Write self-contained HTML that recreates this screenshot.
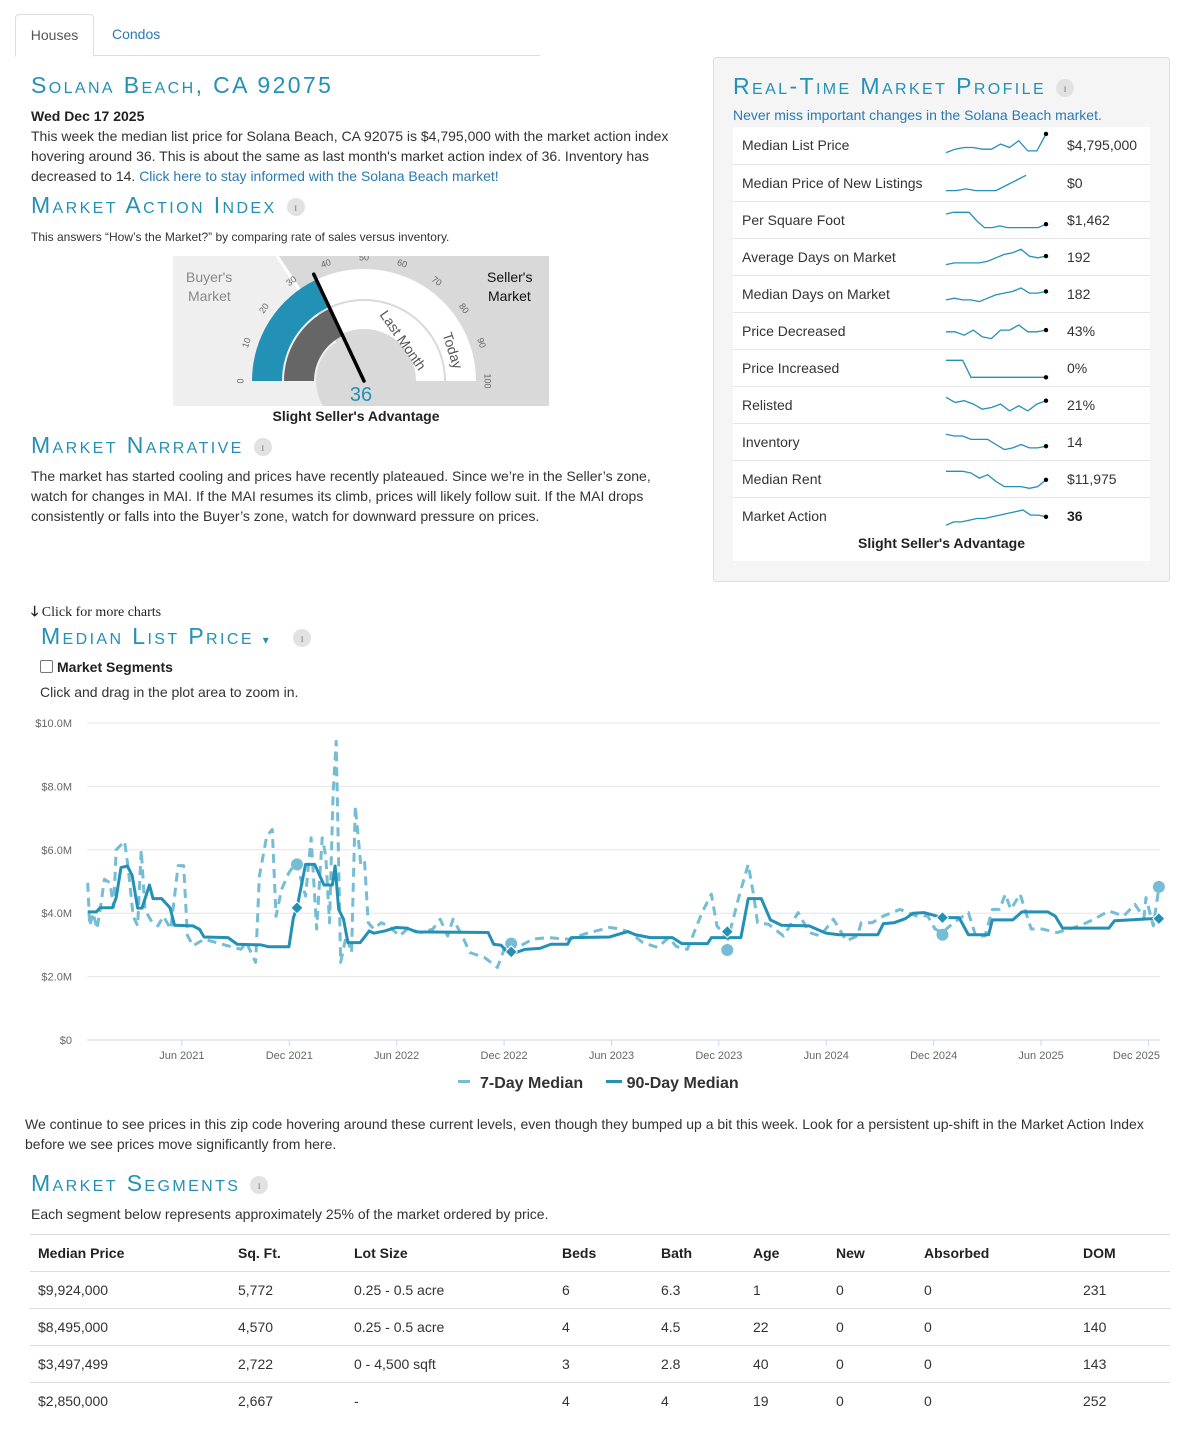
<!DOCTYPE html>
<html><head><meta charset="utf-8">
<style>
body{margin:0;width:1200px;height:1449px;position:relative;background:#fff;font-family:"Liberation Sans",Arial,sans-serif;color:#333;overflow:hidden}
.a{position:absolute;white-space:nowrap}
.h{position:absolute;white-space:nowrap;font-variant:small-caps;text-transform:none;color:#2390b6;font-size:23px;letter-spacing:2.4px;line-height:24px;font-weight:normal}
.info{display:inline-block;width:18px;height:18px;border-radius:50%;background:#e2e2e2;color:#999;font-size:12px;text-align:center;line-height:18px;font-family:"Liberation Serif",serif;font-weight:bold;vertical-align:middle;letter-spacing:0;margin-left:10px}
.p{font-size:14px;line-height:20px}
a{color:#2a7ab0;text-decoration:none}
.row{position:absolute;left:733px;width:417px;height:36px;border-top:1px solid #e5e5e5;font-size:14px}
.row span{position:absolute;top:10px}
</style></head><body>
<div class="a" style="left:15px;top:55px;width:525px;height:1px;background:#ddd"></div>
<div class="a" style="left:15px;top:14px;width:77px;height:41px;border:1px solid #ddd;border-bottom:1px solid #fff;border-radius:4px 4px 0 0;background:#fff;font-size:14px;text-align:center;line-height:41px;color:#555">Houses</div>
<div class="a" style="left:112px;top:26px;font-size:14px;color:#2a7ab0">Condos</div>

<div class="h" style="left:31px;top:73px">Solana Beach, CA 92075</div>
<div class="a p" style="left:31px;top:106px;font-weight:bold;color:#222">Wed Dec 17 2025</div>
<div class="a p" style="left:31px;top:126px;white-space:normal;width:660px;color:#333">This week the median list price for Solana Beach, CA 92075 is $4,795,000 with the market action index hovering around 36. This is about the same as last month's market action index of 36. Inventory has decreased to 14. <a>Click here to stay informed with the Solana Beach market!</a></div>

<div class="h" style="left:31px;top:193px">Market Action Index<span class="info">i</span></div>
<div class="a" style="left:31px;top:230px;font-size:12px">This answers “How’s the Market?” by comparing rate of sales versus inventory.</div>

<svg class="a" style="left:173px;top:256px" width="376" height="150" viewBox="173 256 376 150">
<rect x="173" y="256" width="376" height="150" fill="#efefef"/>
<polygon points="277,256 549,256 549,406 377,406" fill="#d9d9d9"/>
<line x1="277" y1="256" x2="377" y2="406" stroke="#fff" stroke-width="3"/>
<g id="gaugeArcs"></g>
<text x="186" y="282" font-size="14" fill="#888">Buyer's</text>
<text x="188" y="301" font-size="14" fill="#888">Market</text>
<text x="487" y="282" font-size="14" fill="#111">Seller's</text>
<text x="488" y="301" font-size="14" fill="#111">Market</text>
<text x="361" y="401" font-size="20" fill="#2390b6" text-anchor="middle">36</text>
</svg>
<div class="a" style="left:173px;width:366px;text-align:center;top:408px;font-size:14px;font-weight:bold;color:#222">Slight Seller's Advantage</div>

<div class="h" style="left:31px;top:433px">Market Narrative<span class="info">i</span></div>
<div class="a p" style="left:31px;top:466px;white-space:normal;width:640px">The market has started cooling and prices have recently plateaued. Since we’re in the Seller’s zone, watch for changes in MAI. If the MAI resumes its climb, prices will likely follow suit. If the MAI drops consistently or falls into the Buyer’s zone, watch for downward pressure on prices.</div>

<div class="a" style="left:713px;top:57px;width:455px;height:523px;background:#f5f5f5;border:1px solid #ddd;border-radius:3px"></div>
<div class="h" style="left:733px;top:74px">Real-Time Market Profile<span class="info">i</span></div>
<div class="a" style="left:733px;top:107px;font-size:14px;color:#2a7ab0">Never miss important changes in the Solana Beach market.</div>
<div class="a" style="left:733px;top:127px;width:417px;height:434px;background:#fff"></div>
<div id="rows"></div>
<div class="a" style="left:733px;width:417px;text-align:center;top:535px;font-size:14px;font-weight:bold;color:#222">Slight Seller's Advantage</div>

<div class="a" style="left:31px;top:601px;font-family:'Liberation Serif',serif;font-size:14px;color:#222"><b>🡓</b> Click for more charts</div>
<div class="h" style="left:41px;top:624px">Median List Price <span style="font-size:12px">▾</span><span class="info" style="margin-left:22px">i</span></div>
<div class="a" style="left:40px;top:659px;font-size:14px;font-weight:bold;color:#222"><span style="display:inline-block;width:11px;height:11px;border:1px solid #777;border-radius:2px;vertical-align:-1px;margin-right:4px;background:#fff"></span>Market Segments</div>
<div class="a p" style="left:40px;top:682px">Click and drag in the plot area to zoom in.</div>

<svg class="a" id="chart" style="left:0;top:700px" width="1200" height="400" viewBox="0 700 1200 400"></svg>

<div class="a" style="left:458px;top:1075px;font-size:16px;font-weight:bold;color:#333">
<span><span style="display:inline-block;width:12px;height:3px;background:#74bdd5;vertical-align:5px;margin-right:10px"></span>7-Day Median</span>
<span style="margin-left:18px"><span style="display:inline-block;width:16px;height:3px;background:#2390b6;vertical-align:5px;margin-right:5px"></span>90-Day Median</span></div>

<div class="a p" style="left:25px;top:1114px;white-space:normal;width:1150px">We continue to see prices in this zip code hovering around these current levels, even though they bumped up a bit this week. Look for a persistent up-shift in the Market Action Index before we see prices move significantly from here.</div>

<div class="h" style="left:31px;top:1171px">Market Segments<span class="info">i</span></div>
<div class="a p" style="left:31px;top:1204px">Each segment below represents approximately 25% of the market ordered by price.</div>
<div id="seg"></div>

<script>
var NS='http://www.w3.org/2000/svg';
function el(t,a,p){var e=document.createElementNS(NS,t);for(var k in a)e.setAttribute(k,a[k]);p.appendChild(e);return e;}

var gaugeValue=36;
var gaugeLastMonth=36;
var gaugeTicks=[0,10,20,30,40,50,60,70,80,90,100];
(function(){
 var g=document.getElementById('gaugeArcs');var cx=364,cy=381;
 function pt(v,r){var a=Math.PI*(1-v/100);return [cx+r*Math.cos(a),cy-r*Math.sin(a)];}
 function band(v0,v1,r0,r1,fill,name){
  var a=pt(v0,r1),b=pt(v1,r1),c=pt(v1,r0),d=pt(v0,r0);
  var p=el('path',{d:'M'+a+' A'+r1+' '+r1+' 0 0 1 '+b+' L'+c+' A'+r0+' '+r0+' 0 0 0 '+d+'Z',fill:fill},g);
  
  
 }
 band(gaugeValue,100,82,112,'#fff','today-band-rest');
 band(gaugeLastMonth,100,52,80,'#fff','last-month-band-rest');
 band(0,gaugeValue,82,112,'#2390b6','today-band');
 band(0,gaugeLastMonth,50,80,'#666','last-month-band');
 el('circle',{cx:cx,cy:cy,r:48,fill:'#d9d9d9'},g);
 var s=pt(gaugeValue,118);
 var n=el('line',{x1:cx,y1:cy,x2:s[0],y2:s[1],stroke:'#000','stroke-width':3.5,'stroke-linecap':'round'},g);
 
 
 gaugeTicks.forEach(function(t){var q=pt(t,123);var ang=-90+t*1.8;
  var tx=el('text',{x:q[0],y:q[1],'font-size':9,fill:'#666','text-anchor':'middle','dominant-baseline':'middle',transform:'rotate('+ang+' '+q[0]+' '+q[1]+')'},g);tx.textContent=t;
  
  });
 var l1=el('text',{x:0,y:0,'font-size':14,fill:'#555','text-anchor':'middle',transform:'translate(399,343) rotate(55)'},g);l1.textContent='Last Month';
 var l2=el('text',{x:0,y:0,'font-size':14,fill:'#555','text-anchor':'middle',transform:'translate(448,352) rotate(72)'},g);l2.textContent='Today';
})();

var profLabels=['Median List Price','Median Price of New Listings','Per Square Foot','Average Days on Market','Median Days on Market','Price Decreased','Price Increased','Relisted','Inventory','Median Rent','Market Action'];
var profValues=['$4,795,000','$0','$1,462','192','182','43%','0%','21%','14','$11,975','36'];
var spMedianList=[2,4,5,5,4,4,7,5,9,3,3,13];
var spNewListings=[2,2,3,2,2,2,5,8,11];
var spPerSqft=[10,11,11,11,6,2,2,3,2,2,2,2,2,4];
var spAvgDom=[2,3,3,3,3,4,6,8,9,11,7,6,7];
var spMedDom=[3,4,3,3,2,4,6,7,8,10,7,7,8];
var spPriceDec=[6,6,4,7,3,2,7,7,10,6,6,7];
var spPriceInc=[11,11,11,1,1,1,1,1,1,1,1,1,1];
var spRelisted=[11,8,9,7,4,5,7,3,6,3,7,9];
var spInventory=[11,10,10,8,8,8,5,2,3,5,3,3,4];
var spRent=[11,11,11,10,7,9,5,2,2,2,1,2,6];
var spMarketAction=[1,3,3,4,5,5,6,7,8,9,10,7,7,6];
var spData=[spMedianList,spNewListings,spPerSqft,spAvgDom,spMedDom,spPriceDec,spPriceInc,spRelisted,spInventory,spRent,spMarketAction];
(function(){
 var c=document.getElementById('rows');
 profLabels.forEach(function(lb,i){
  var top=127+i*37;
  var r=document.createElement('div');r.className='row';r.style.top=top+'px';
  if(i==0)r.style.borderTop='none';
  
  
  r.innerHTML='<span style="left:9px;color:#333">'+lb+'</span><span style="left:334px;'+(i==10?'font-weight:bold;color:#222':'')+'">'+profValues[i]+'</span>';
  c.appendChild(r);
  var d=spData[i];var w=(i==1?80:100);
  var s=document.createElementNS(NS,'svg');s.setAttribute('width',110);s.setAttribute('height',30);
  s.style.position='absolute';s.style.left='210px';s.style.top='3px';
  
  
  r.appendChild(s);
  var pts=d.map(function(v,k){return [3+k*w/(d.length-1),26-v*1.7];});
  el('polyline',{points:pts.join(' '),fill:'none',stroke:'#2390b6','stroke-width':1.3},s);
  if(i!=1){var e=pts[pts.length-1];el('circle',{cx:e[0],cy:e[1],r:2.2,fill:'#000'},s);}
 });
})();

var tickMonths=[5,11,17,23,29,35,41,47,53,59];
var tickLabels=['Jun 2021','Dec 2021','Jun 2022','Dec 2022','Jun 2023','Dec 2023','Jun 2024','Dec 2024','Jun 2025','Dec 2025'];
var yTicks=[0,2,4,6,8,10];
var yTickLabels=['$0','$2.0M','$4.0M','$6.0M','$8.0M','$10.0M'];
var m90=[-0.26,0.22,0.42,1.12,1.33,1.6,1.95,2.22,2.53,2.77,3.19,3.39,3.87,4.34,4.59,5.62,5.99,6.24,7.58,8.09,9.43,9.85,10.98,11.23,11.43,11.91,12.42,12.94,13.41,13.56,13.76,14.03,14.28,14.96,15.47,15.72,16.34,16.96,17.58,18.09,22.11,22.42,22.84,23.14,23.56,24.18,25.0,25.62,26.55,26.75,28.9,29.3,29.93,30.34,31.17,32.41,32.93,34.37,34.58,36.23,36.64,37.37,37.88,38.5,40.05,40.57,40.98,41.7,43.88,44.19,44.8,45.43,45.84,46.46,47.49,48.42,48.94,50.07,50.28,51.42,51.93,53.38,53.79,54.2,56.79,57.1,59.27,59.58];
var v90=[4.04,4.04,4.17,4.17,4.49,5.44,5.49,5.2,4.16,4.16,4.89,4.46,4.46,4.17,3.62,3.6,3.49,3.25,3.23,3.02,3.0,2.94,2.94,3.86,4.17,5.54,5.54,4.89,4.89,5.49,4.12,3.81,3.07,3.07,3.44,3.37,3.44,3.55,3.53,3.41,3.39,3.02,2.99,2.78,2.74,2.86,2.89,3.02,3.02,3.23,3.25,3.32,3.42,3.32,3.23,3.23,3.04,3.04,3.23,3.23,4.46,4.46,3.79,3.62,3.6,3.47,3.37,3.32,3.32,3.67,3.7,3.83,4.0,4.02,3.86,3.86,3.32,3.32,3.79,3.79,4.04,4.04,3.91,3.53,3.53,3.76,3.83,3.83];
var m7=[-0.26,-0.15,0.05,0.26,0.46,0.67,0.98,1.19,1.33,1.8,2.01,2.28,2.53,2.73,2.94,3.35,3.66,3.97,4.38,4.79,5.1,5.31,5.62,6.24,7.27,8.3,8.61,9.12,9.33,9.74,10.05,10.26,10.57,10.98,11.39,11.91,12.22,12.53,12.84,13.04,13.25,13.45,13.62,13.87,14.18,14.48,14.69,15.0,15.21,15.41,15.72,16.13,16.55,17.16,17.58,18.4,19.02,19.43,19.85,20.15,20.67,21.08,21.91,22.63,23.14,23.76,24.59,25.41,26.65,27.47,28.88,29.52,30.03,30.76,31.58,32.2,32.62,33.24,34.06,34.58,34.89,35.51,36.13,36.64,36.95,37.16,37.78,38.61,39.43,40.05,40.67,41.4,42.12,42.74,42.95,43.57,44.19,45.12,46.05,46.67,47.08,47.49,48.11,48.94,49.35,49.87,50.28,50.69,51.0,51.31,51.83,52.45,53.07,53.9,55.14,55.96,56.79,57.62,58.24,58.75,58.86,59.27,59.58];
var v7=[4.96,3.6,4.0,3.5,4.2,5.07,4.96,4.2,6.0,6.27,5.38,3.9,3.6,6.0,4.1,3.7,3.6,3.9,3.5,5.5,5.5,3.3,2.97,3.18,3.02,2.86,3.07,2.45,5.17,6.43,6.64,3.9,4.75,5.28,5.6,4.54,6.38,3.5,6.38,5.8,3.7,7.8,9.42,2.45,3.28,2.76,7.38,5.49,5.6,3.7,3.5,3.7,3.6,3.28,3.5,3.39,3.5,3.81,3.28,3.81,3.28,2.76,2.6,2.29,3.07,2.92,3.18,3.23,3.18,3.34,3.55,3.5,3.39,3.07,2.92,3.23,2.95,2.86,4.02,4.6,3.6,3.18,4.54,5.54,4.54,3.7,3.65,3.28,4.02,3.39,3.28,3.81,3.13,3.28,3.7,3.7,3.91,4.12,3.91,3.91,3.5,3.39,3.7,4.02,3.28,3.28,4.12,4.12,4.6,4.12,4.6,3.5,3.5,3.39,3.6,3.81,4.07,3.91,4.28,3.86,4.49,3.6,4.8];
var markerMonths=[11.43,23.4,35.47,47.49,59.58];
var marker7=[5.54,3.04,2.84,3.32,4.83];
var marker90=[4.17,2.78,3.42,3.86,3.83];
(function(){
 var s=document.getElementById('chart');
 var X0=87,X1=1160,Y0=1040;
 function xs(m){return X0+(m+0.3)*17.9;}
 function ys(v){return Y0-v*31.7;}
 yTicks.forEach(function(t,i){
  var l=el('line',{x1:X0,x2:X1,y1:ys(t),y2:ys(t),stroke:t==0?'#ccd6eb':'#e6e6e6','stroke-width':1},s);
  
  
  var tx=el('text',{x:72,y:ys(t)+4,'font-size':11,fill:'#666','text-anchor':'end'},s);tx.textContent=yTickLabels[i];
  
  
 });
 tickMonths.forEach(function(m,i){
  el('line',{x1:xs(m),x2:xs(m),y1:Y0,y2:Y0+6,stroke:'#ccd6eb'},s);
  var last=(i==tickMonths.length-1);
  var tx=el('text',{x:last?X1:xs(m),y:Y0+19,'font-size':11,fill:'#666','text-anchor':last?'end':'middle'},s);tx.textContent=tickLabels[i];
  
  
 });
 var p7=el('polyline',{points:m7.map(function(m,i){return xs(m)+','+ys(v7[i]);}).join(' '),fill:'none',stroke:'#74bdd5','stroke-width':3,'stroke-dasharray':'9,6','stroke-linejoin':'round'},s);
 
 
 var p90=el('polyline',{points:m90.map(function(m,i){return xs(m)+','+ys(v90[i]);}).join(' '),fill:'none',stroke:'#2390b6','stroke-width':3,'stroke-linejoin':'round'},s);
 
 
 markerMonths.forEach(function(m,i){
  var c=el('circle',{cx:xs(m),cy:ys(marker7[i]),r:6,fill:'#74bdd5'},s);
  
  
  var x=xs(m),y=ys(marker90[i]);
  var d=el('polygon',{points:(x)+','+(y-6)+' '+(x+6)+','+y+' '+x+','+(y+6)+' '+(x-6)+','+y,fill:'#2390b6',stroke:'#fff','stroke-width':1},s);
  
  
 });
})();

var segHeaders=['Median Price','Sq. Ft.','Lot Size','Beds','Bath','Age','New','Absorbed','DOM'];
var segRows=[['$9,924,000','5,772','0.25 - 0.5 acre','6','6.3','1','0','0','231'],['$8,495,000','4,570','0.25 - 0.5 acre','4','4.5','22','0','0','140'],['$3,497,499','2,722','0 - 4,500 sqft','3','2.8','40','0','0','143'],['$2,850,000','2,667','-','4','4','19','0','0','252']];
var segColX=[38,238,354,562,661,753,836,924,1083];
(function(){
 var c=document.getElementById('seg');
 function line(top){var d=document.createElement('div');d.className='a';d.style.cssText='left:30px;width:1140px;height:1px;background:#ddd;top:'+top+'px';c.appendChild(d);}
 line(1234);
 segHeaders.forEach(function(h,i){var d=document.createElement('div');d.className='a';d.style.cssText='left:'+segColX[i]+'px;top:1245px;font-size:14px;font-weight:bold;color:#222';d.textContent=h;
  
  c.appendChild(d);});
 segRows.forEach(function(r,j){var top=1271+j*37;line(top);
  r.forEach(function(v,i){var d=document.createElement('div');d.className='a';d.style.cssText='left:'+segColX[i]+'px;top:'+(top+11)+'px;font-size:14px;color:#333';d.textContent=v;
   
   c.appendChild(d);});});
})();
</script>
</body></html>
